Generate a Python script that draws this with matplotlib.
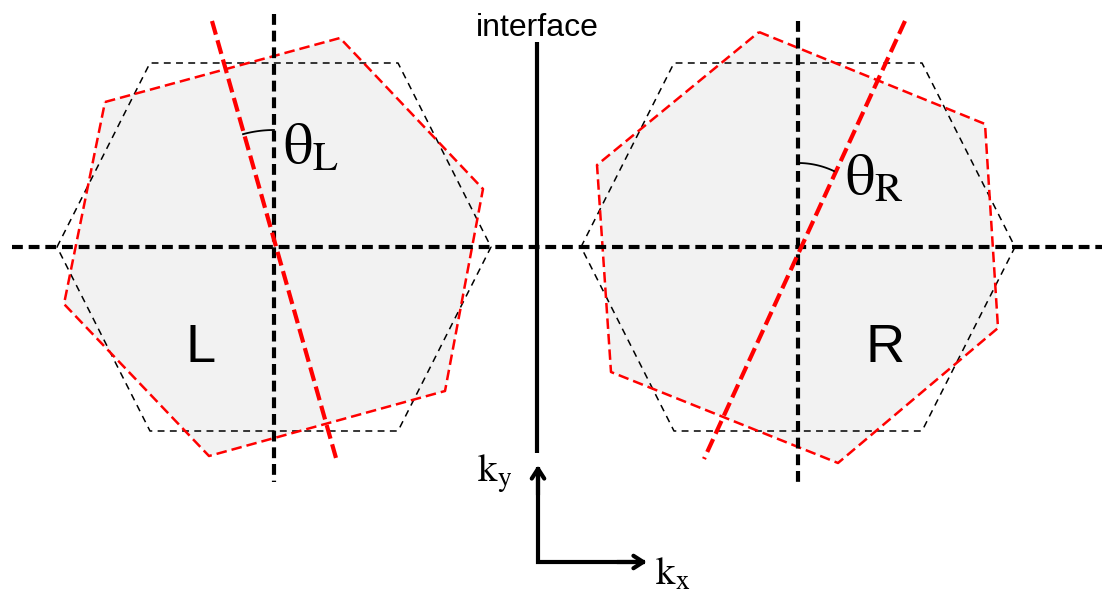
import numpy as np
import matplotlib.pyplot as plt

plt.rcParams['mathtext.fontset'] = 'stix'

# geometry of the sketch, in pixel units (y grows downward)
hex_dx = [-217, -124, 124, 217, 124, -124]
hex_dy = [0, -184, -184, 0, 184, 184]
centers_x = [274, 798]
center_y = 247

red_left_x = [105, 340, 483, 445, 209, 64]
red_left_y = [102, 38, 189, 391, 456, 304]
red_right_x = [759, 985, 998, 838, 611, 597]
red_right_y = [32, 124, 328, 463, 372, 165]

red_axis_left = [(212, 21), (336, 458)]
red_axis_right = [(905, 21), (704, 459)]
vert_axis_top = [14, 21]
vert_axis_bottom = 482
horiz_axis_x = [12, 1102]
arc_radius = [117, 84]

interface_x = 537
interface_y = [42, 453]
origin = (538, 562)
ky_tip = 465
kx_tip = 647

fig = plt.figure(figsize=(11.02, 5.94), dpi=100)
ax = fig.add_axes([0, 0, 1, 1])
ax.set_xlim(0, 1102)
ax.set_ylim(594, 0)
ax.axis('off')

thick_dash = (0, (2.6, 1.4))
red_thick_dash = (0, (3.4, 1.4))

for rx, ry in [(red_left_x, red_left_y), (red_right_x, red_right_y)]:
    ax.fill(rx, ry, color='#f2f2f2', zorder=1, lw=0)
    ax.plot(rx + rx[:1], ry + ry[:1], color='red', lw=1.8,
            linestyle=(0, (4.2, 2.0)), zorder=3)

for cx in centers_x:
    hx = [cx + d for d in hex_dx] + [cx + hex_dx[0]]
    hy = [center_y + d for d in hex_dy] + [center_y + hex_dy[0]]
    ax.plot(hx, hy, color='black', lw=1.1, linestyle=(0, (4.5, 3.5)), zorder=2)

# black k-axes through each hexagon
ax.plot(horiz_axis_x, [center_y, center_y], color='black', lw=3,
        linestyle=thick_dash, zorder=4)
for cx, top in zip(centers_x, vert_axis_top):
    ax.plot([cx, cx], [top, vert_axis_bottom], color='black', lw=3,
            linestyle=thick_dash, zorder=4)

# rotated red axes
for (p0, p1) in [red_axis_left, red_axis_right]:
    ax.plot([p0[0], p1[0]], [p0[1], p1[1]], color='red', lw=3,
            linestyle=red_thick_dash, zorder=5)

# angle arcs
for cx, (p0, p1), r in zip(centers_x, [red_axis_left, red_axis_right], arc_radius):
    ang = np.degrees(np.arctan2(p0[1] - center_y, p0[0] - cx))
    t = np.radians(np.linspace(min(ang, -90), max(ang, -90), 40))
    ax.plot(cx + r * np.cos(t), center_y + r * np.sin(t), color='black', lw=1.3, zorder=6)

# interface
ax.plot([interface_x, interface_x], interface_y, color='black', lw=3, zorder=4,
        solid_capstyle='butt')
ax.text(interface_x, 36, 'interface', fontsize=23, family='Liberation Sans',
        ha='center', va='baseline')

# k-space axes: L-shaped line plus open arrow heads
ax.plot([origin[0], origin[0], kx_tip - 2], [ky_tip + 2, origin[1], origin[1]],
        color='black', lw=3, solid_joinstyle='miter', solid_capstyle='butt')
head = dict(arrowstyle='->,head_length=0.7,head_width=0.45', lw=3, color='black',
            shrinkA=0, shrinkB=0)
ax.annotate('', xy=(origin[0], ky_tip), xytext=(origin[0], ky_tip + 30), arrowprops=head)
ax.annotate('', xy=(kx_tip, origin[1]), xytext=(kx_tip - 30, origin[1]), arrowprops=head)

ax.text(477, 482, r'$\mathrm{k}_\mathrm{y}$', fontsize=28, ha='left', va='baseline')
ax.text(655, 585, r'$\mathrm{k}_\mathrm{x}$', fontsize=28, ha='left', va='baseline')

ax.text(283, 163, r'$\mathrm{\theta}_\mathrm{L}$', fontsize=42, ha='left', va='baseline')
ax.text(845, 194, r'$\mathrm{\theta}_\mathrm{R}$', fontsize=42, ha='left', va='baseline')

ax.text(201, 362, 'L', fontsize=39, family='Liberation Sans', ha='center', va='baseline')
ax.text(885, 362, 'R', fontsize=39, family='Liberation Sans', ha='center', va='baseline')

fig.savefig('out.png', dpi=100)
